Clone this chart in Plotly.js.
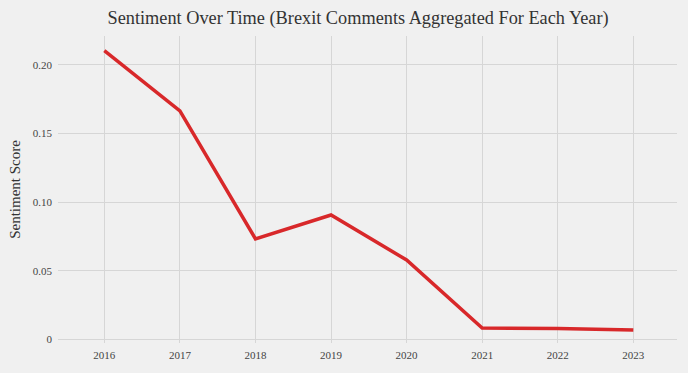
<!DOCTYPE html>
<html>
<head>
<meta charset="utf-8">
<script src="https://cdn.plot.ly/plotly-3.0.1.min.js"></script>
<style>html,body{margin:0;padding:0;background:#f0f0f0;}#chart{width:688px;height:373px;}</style>
</head>
<body>
<div id="chart"></div>
<script>
var years = [2016, 2017, 2018, 2019, 2020, 2021, 2022, 2023];
var sentiment = [0.2104, 0.1665, 0.0732, 0.0906, 0.0578, 0.0082, 0.0078, 0.0068];
var yTickVals = [0, 0.05, 0.10, 0.15, 0.20];
var yTickText = ["0", "0.05", "0.10", "0.15", "0.20"];
var xTickVals = years;
var xTickText = years.map(String);

var font = "Liberation Serif, Times New Roman, serif";
var trace = {
  x: years, y: sentiment, type: 'scatter', mode: 'lines',
  line: {color: '#d8282a', width: 3.5},
  hoverinfo: 'x+y'
};
var layout = {
  width: 688, height: 373,
  paper_bgcolor: '#f0f0f0', plot_bgcolor: '#f0f0f0',
  margin: {l: 58, r: 11, t: 36, b: 30},
  font: {family: font, color: '#444444', size: 11},
  title: {text: 'Sentiment Over Time (Brexit Comments Aggregated For Each Year)',
          font: {family: font, size: 18.3, color: '#333333'}, x: 0.5205, xanchor: 'center', y: 0.952, yanchor: 'middle'},
  showlegend: false,
  xaxis: {
    range: [2015.387, 2023.578], tickvals: xTickVals, ticktext: xTickText,
    showgrid: true, gridcolor: '#d6d6d6', gridwidth: 1, zeroline: false, showline: false,
    ticks: '', ticklabelstandoff: 4, tickfont: {size: 11, color: '#444444'}
  },
  yaxis: {
    range: [-0.0027, 0.2211], tickvals: yTickVals, ticktext: yTickText,
    showgrid: true, gridcolor: '#d6d6d6', gridwidth: 1, zeroline: false, showline: false,
    ticks: '', ticklabelstandoff: 5, tickfont: {size: 11, color: '#444444'},
    title: {text: 'Sentiment Score', font: {size: 15, color: '#333333'}, standoff: 8}
  }
};
Plotly.newPlot('chart', [trace], layout, {displayModeBar: false, staticPlot: true});
</script>
</body>
</html>
